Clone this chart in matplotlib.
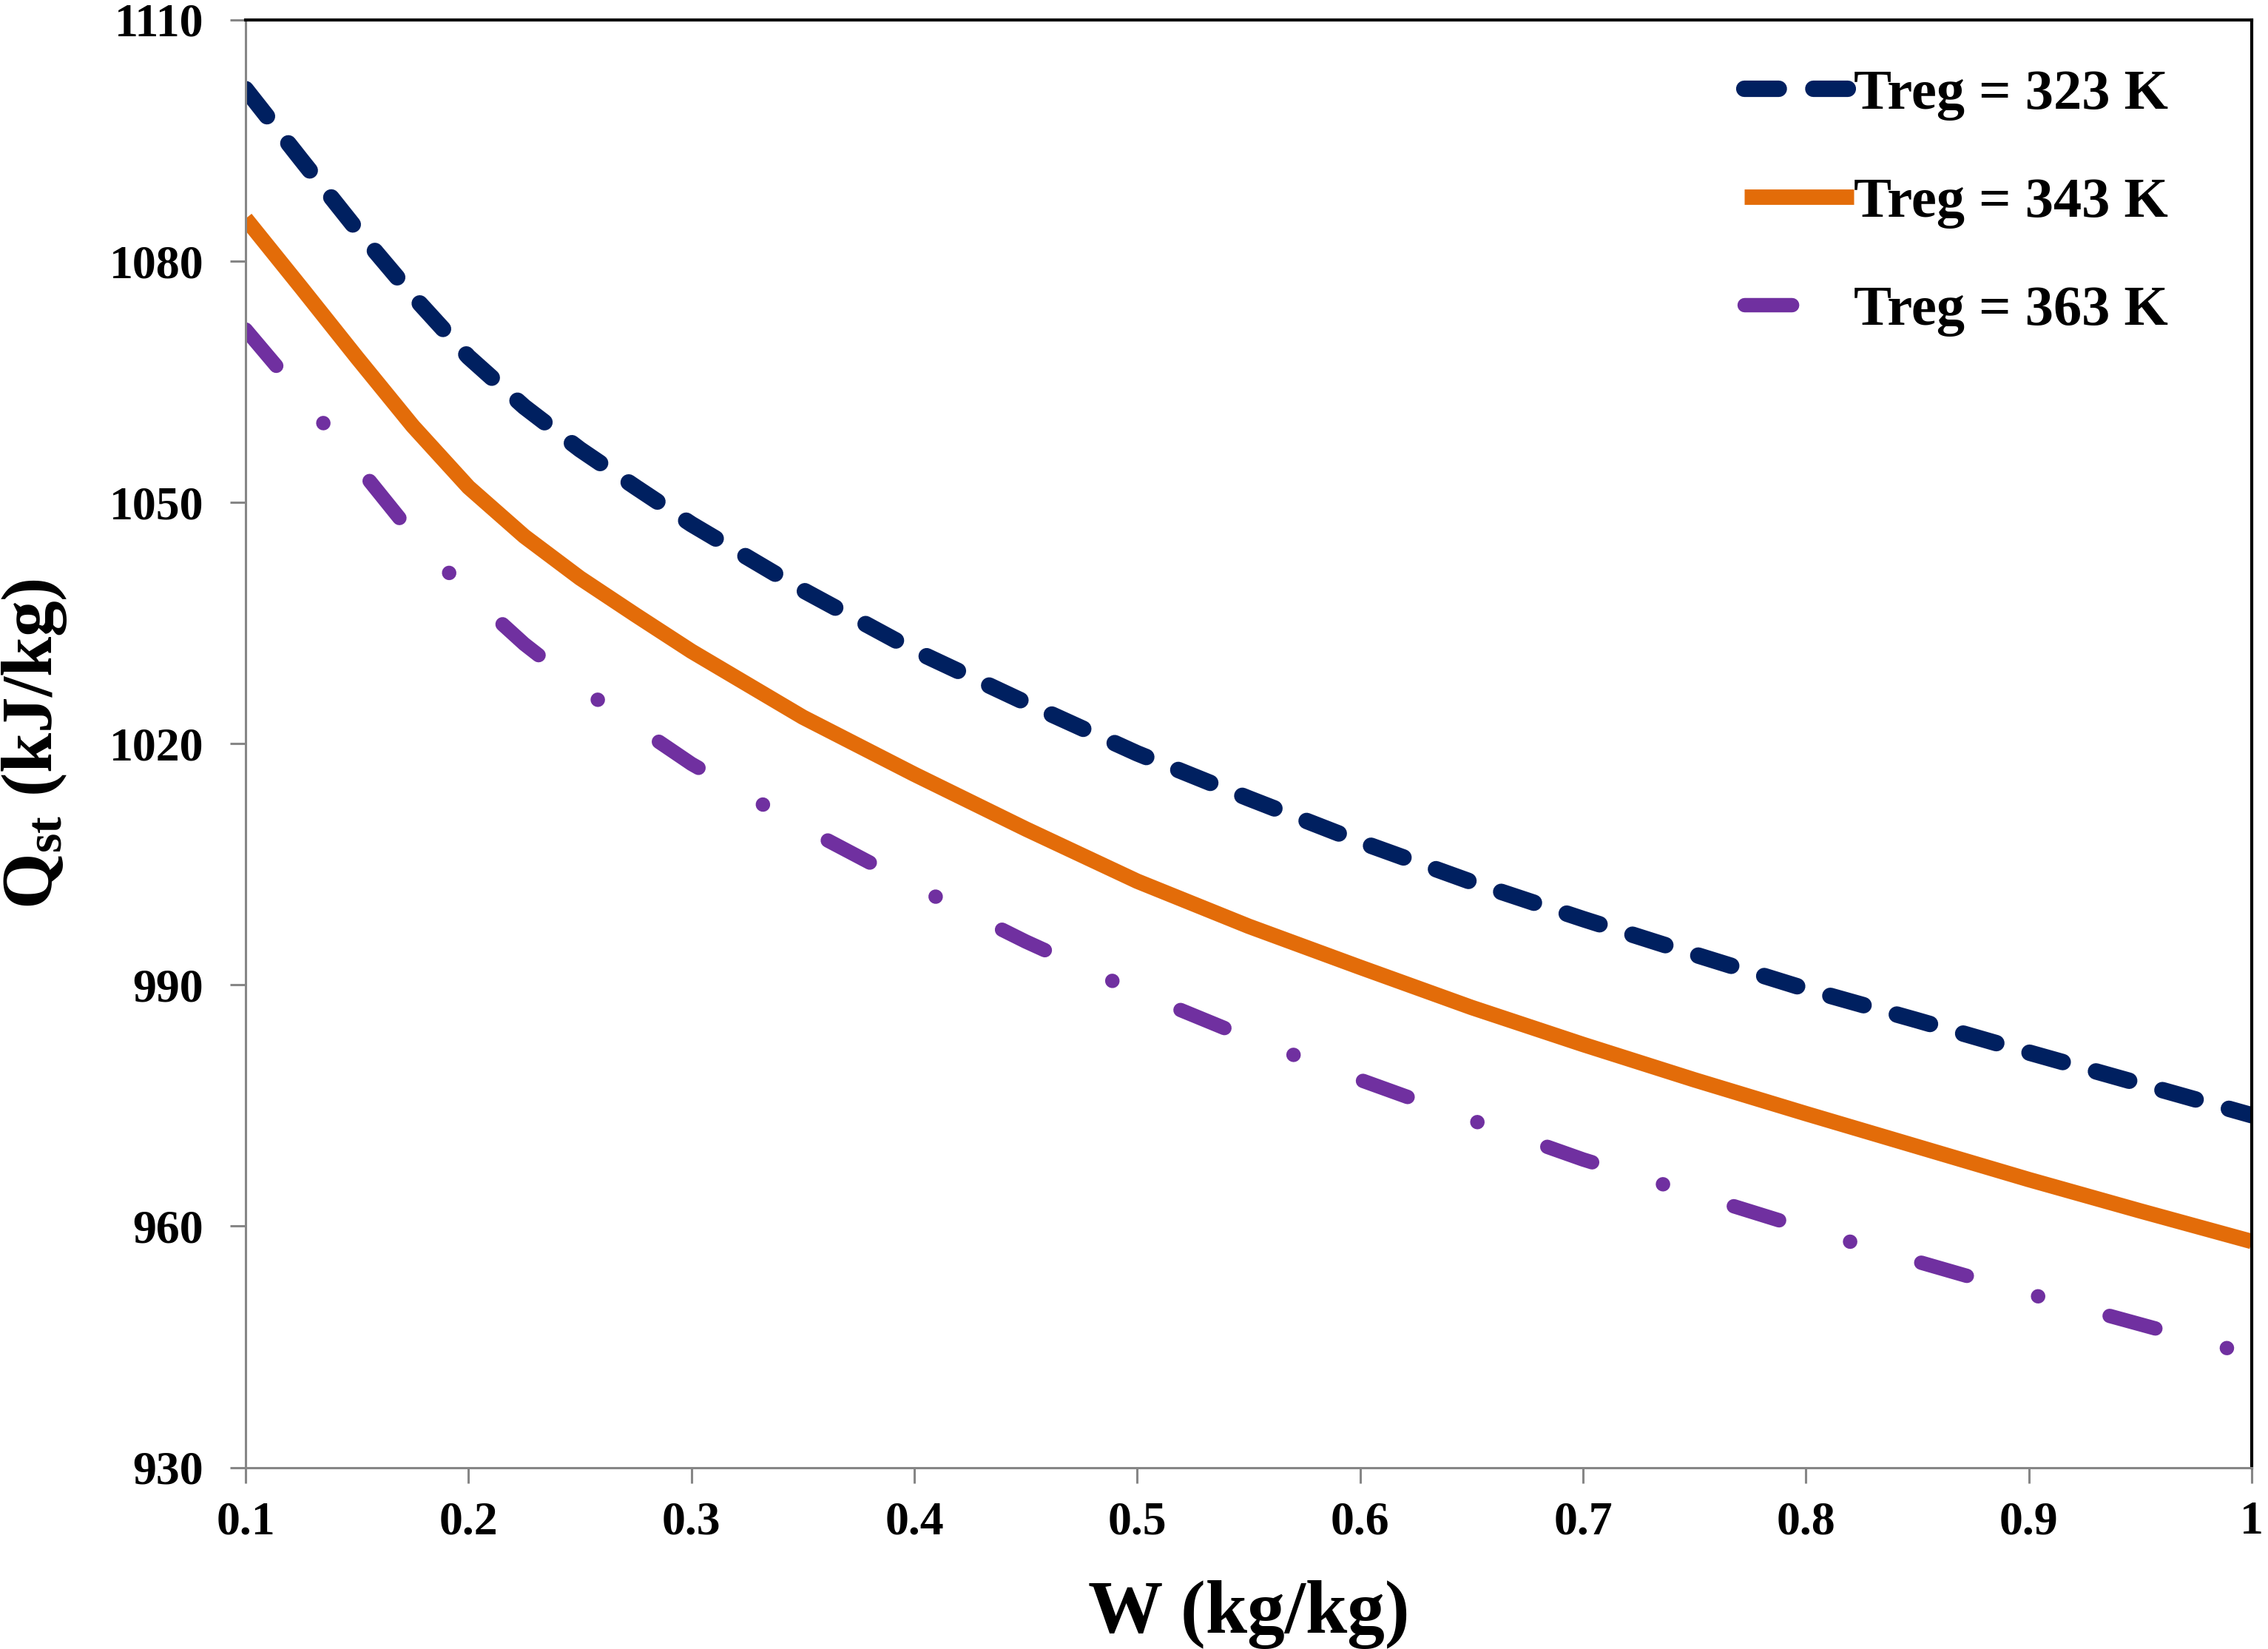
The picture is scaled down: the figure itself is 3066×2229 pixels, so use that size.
import numpy as np
import matplotlib
matplotlib.use("Agg")
import matplotlib.pyplot as plt

# fonts: bold serif everywhere, mathtext too (for the Q_st label)
plt.rcParams["font.family"] = ["Liberation Serif", "DejaVu Serif"]
plt.rcParams["font.weight"] = "bold"
plt.rcParams["mathtext.fontset"] = "custom"
plt.rcParams["mathtext.rm"] = "Liberation Serif:bold"
plt.rcParams["mathtext.it"] = "Liberation Serif:bold"
plt.rcParams["mathtext.bf"] = "Liberation Serif:bold"

# %% Data
w = [0.1, 0.125, 0.15, 0.175, 0.2, 0.225, 0.25, 0.275, 0.3, 0.35, 0.4, 0.45, 0.5,
     0.55, 0.6, 0.65, 0.7, 0.75, 0.8, 0.85, 0.9, 0.95, 1.0]

q_323 = [1101.4, 1092.6, 1083.9, 1075.7, 1068.1, 1061.9, 1056.6, 1051.9, 1047.3, 1039.1,
         1031.6, 1025.1, 1018.8, 1013.2, 1007.8, 1002.8, 998.2, 993.8, 989.5, 985.6,
         981.6, 977.7, 973.8]
q_343 = [1085.3, 1076.7, 1068.0, 1059.5, 1051.9, 1045.8, 1040.6, 1036.0, 1031.5, 1023.3,
         1016.2, 1009.4, 1002.9, 997.3, 992.2, 987.2, 982.6, 978.2, 974.0, 969.9,
         965.8, 961.9, 958.1]
q_363 = [1071.5, 1063.3, 1054.6, 1046.0, 1038.7, 1032.4, 1027.0, 1022.2, 1017.5, 1009.6,
         1002.3, 995.4, 989.1, 983.4, 978.2, 973.2, 968.3, 964.0, 959.7, 955.6,
         951.6, 947.8, 944.0]

labels = ["Treg = 323 K", "Treg = 343 K", "Treg = 363 K"]
x_ticks = [0.1, 0.2, 0.3, 0.4, 0.5, 0.6, 0.7, 0.8, 0.9, 1.0]
x_ticklabels = ["0.1", "0.2", "0.3", "0.4", "0.5", "0.6", "0.7", "0.8", "0.9", "1"]
y_ticks = [930, 960, 990, 1020, 1050, 1080, 1110]

# %% Plot
fig = plt.figure(figsize=(30.66, 22.29), dpi=100)
ax = fig.add_axes([0.1083, 0.1101, 0.9928 - 0.1083, 0.9879 - 0.1101])

ax.plot(w, q_323, color="#002060", lw=16, dashes=(2.1, 2.1),
        dash_capstyle="round", label=labels[0])
ax.plot(w, q_343, color="#E36C09", lw=15, solid_capstyle="butt",
        solid_joinstyle="round", label=labels[1])
ax.plot(w, q_363, color="#7030A0", lw=14, dashes=(3.3, 5.15, 0.01, 5.15),
        dash_capstyle="round", label=labels[2])

ax.set_xlim(0.1, 1.0)
ax.set_ylim(930, 1110)
ax.set_xticks(x_ticks)
ax.set_xticklabels(x_ticklabels)
ax.set_yticks(y_ticks)

gray = "#868686"
for side in ["left", "bottom"]:
    ax.spines[side].set_color(gray)
    ax.spines[side].set_linewidth(2.2)
for side in ["top", "right"]:
    ax.spines[side].set_color("black")
    ax.spines[side].set_linewidth(3)

ax.tick_params(axis="y", direction="out", length=15, width=2.2, color=gray,
               labelsize=46, pad=26)
ax.tick_params(axis="x", direction="out", length=15, width=2.2, color=gray,
               labelsize=46, pad=18)
for lab in ax.get_xticklabels() + ax.get_yticklabels():
    lab.set_fontweight("bold")

ax.set_xlabel("W (kg/kg)", fontsize=73, fontweight="bold")
ax.set_ylabel(r"Q$_{st}$ (kJ/kg)", fontsize=70, fontweight="bold")
ax.xaxis.set_label_coords(0.5, -0.078)
ax.yaxis.set_label_coords(-0.088, 0.5)

ax.legend(loc="upper left", bbox_to_anchor=(0.747, 0.966), frameon=False,
          handlelength=1.94, handletextpad=0.0, labelspacing=1.0,
          borderpad=0, borderaxespad=0, prop={"weight": "bold", "size": 55})

fig.savefig("out.png", dpi=100)
